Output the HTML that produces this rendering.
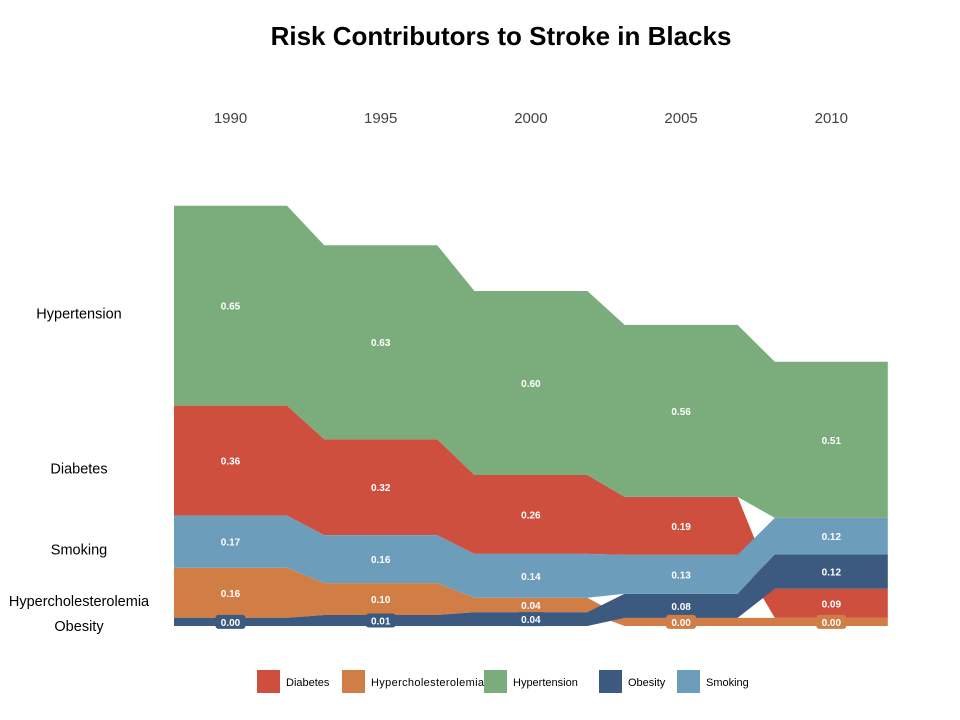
<!DOCTYPE html>
<html><head><meta charset="utf-8"><style>
body{margin:0;background:#fff;font-family:"Liberation Sans",Arial,sans-serif}
svg{display:block}
</style></head><body>
<svg id="chart" width="960" height="720">
<text x="501" y="45" text-anchor="middle" font-size="26" font-weight="bold" fill="#000">Risk Contributors to Stroke in Blacks</text>
</svg>
<script>
const years = ["1990","1995","2000","2005","2010"];
const categories = ["Diabetes","Hypercholesterolemia","Hypertension","Obesity","Smoking"];
const hypertension = [0.638,0.619,0.587,0.549,0.498];
const diabetes = [0.351,0.306,0.252,0.185,0.093];
const smoking = [0.166,0.153,0.140,0.124,0.116];
const hypercholesterolemia = [0.160,0.102,0.046,0.026,0.026];
const obesity = [0.026,0.035,0.044,0.077,0.110];
const hypertensionLabels = ["0.65","0.63","0.60","0.56","0.51"];
const diabetesLabels = ["0.36","0.32","0.26","0.19","0.09"];
const smokingLabels = ["0.17","0.16","0.14","0.13","0.12"];
const hypercholesterolemiaLabels = ["0.16","0.10","0.04","0.00","0.00"];
const obesityLabels = ["0.00","0.01","0.04","0.08","0.12"];

const colors = {Diabetes:"#CF4F3E",Hypercholesterolemia:"#D07E45",Hypertension:"#7AAD7B",Obesity:"#3C5A80",Smoking:"#6C9DBB"};
const series = {Diabetes:diabetes,Hypercholesterolemia:hypercholesterolemia,Hypertension:hypertension,Obesity:obesity,Smoking:smoking};
const labels = {Diabetes:diabetesLabels,Hypercholesterolemia:hypercholesterolemiaLabels,Hypertension:hypertensionLabels,Obesity:obesityLabels,Smoking:smokingLabels};

const NS="http://www.w3.org/2000/svg";
const svg=document.getElementById('chart');
const x0=230.5, dx=150.2, halfW=56.5, base=626, k=313.4;
const xC=i=>x0+i*dx;
const yS=v=>v*k;
function mk(tag,attrs){const e=document.createElementNS(NS,tag);for(const a in attrs)e.setAttribute(a,attrs[a]);return e;}

const pos={};categories.forEach(c=>pos[c]=[]);
years.forEach((y,i)=>{
  const order=categories.slice().sort((a,b)=>series[a][i]-series[b][i]);
  let cur=base;
  order.forEach(c=>{const h=yS(series[c][i]);pos[c][i]={bot:cur,top:cur-h};cur-=h;});
});

categories.forEach(c=>{
  const g=mk('g',{});
  
  
  let topPts=[],botPts=[];
  years.forEach((y,i)=>{
    const l=xC(i)-halfW,r=xC(i)+halfW;
    topPts.push([l,pos[c][i].top],[r,pos[c][i].top]);
    botPts.push([l,pos[c][i].bot],[r,pos[c][i].bot]);
  });
  const pts=topPts.concat(botPts.reverse()).map(p=>p.join(',')).join(' ');
  g.appendChild(mk('polygon',{points:pts,fill:colors[c]}));
  svg.appendChild(g);
});
categories.forEach(c=>{
  years.forEach((y,i)=>{
    const p=pos[c][i],cy=(p.top+p.bot)/2,h=p.bot-p.top,cx=xC(i);
    if(h<16){
      const r=mk('rect',{x:cx-15,y:cy-7,width:30,height:14,rx:3,fill:colors[c]});
      
      
      svg.appendChild(r);
    }
    const t=mk('text',{x:cx,y:cy+4,'text-anchor':'middle','font-size':10,'font-weight':'bold',fill:'#fff'});
    
    
    t.textContent=labels[c][i];svg.appendChild(t);
  });
  const p=pos[c][0],cy=(p.top+p.bot)/2;
  const off = (p.bot-p.top)<16 ? 9 : 13;
  const t=mk('text',{x:79,y:cy+off,'text-anchor':'middle','font-size':14.5,fill:'#000'});
  
  
  t.textContent=c;svg.appendChild(t);
});
years.forEach((y,i)=>{
  const t=mk('text',{x:xC(i),y:123,'text-anchor':'middle','font-size':15,fill:'#444'});
  
  
  t.textContent=y;svg.appendChild(t);
});
const legX=[257,342,484,599,677];
categories.forEach((c,i)=>{
  const r=mk('rect',{x:legX[i],y:670,width:23,height:23,fill:colors[c]});
  
  
  svg.appendChild(r);
  const t=mk('text',{x:legX[i]+29,y:686,'font-size':11,fill:'#000',textLength:null});
  t.removeAttribute('textLength');
  
  
  t.textContent=c;svg.appendChild(t);
  if(c==="Hypercholesterolemia"){t.setAttribute('textLength','113');}
});
</script>
</body></html>
